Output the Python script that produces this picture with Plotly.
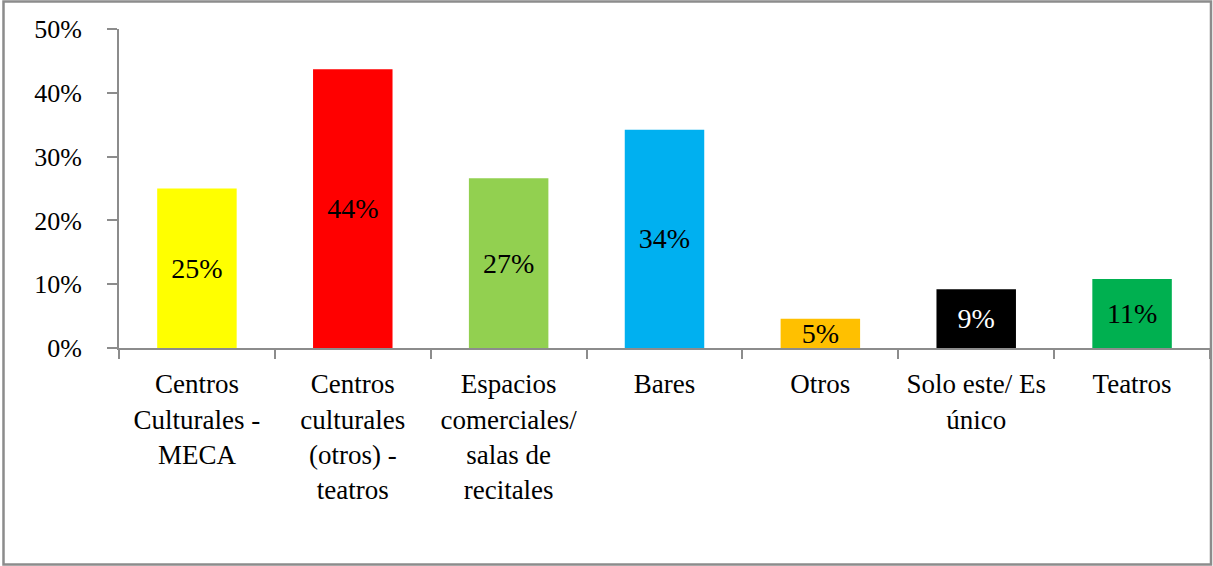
import plotly.graph_objects as go

# Venue categories and share of responses
categories = [
    "Centros<br>Culturales -<br>MECA",
    "Centros<br>culturales<br>(otros) -<br>teatros",
    "Espacios<br>comerciales/<br>salas de<br>recitales",
    "Bares",
    "Otros",
    "Solo este/ Es<br>único",
    "Teatros",
]
shares = [0.25, 0.437, 0.266, 0.342, 0.046, 0.092, 0.108]
bar_colors = ["#FFFF00", "#FF0000", "#92D050", "#00B0F0", "#FFC000", "#000000", "#00B050"]
label_colors = ["black", "black", "black", "black", "black", "white", "black"]
y_ticks = [0, 0.1, 0.2, 0.3, 0.4, 0.5]

FONT = "Liberation Serif, Times New Roman, serif"
AXIS_GREY = "#8C8C8C"

W, H = 1213, 566
ML, MR, MT, MB = 119, 3, 29, 218

fig = go.Figure(
    go.Bar(
        x=categories,
        y=shares,
        marker=dict(color=bar_colors, line=dict(width=0)),
        texttemplate="%{y:.0%}",
        textposition="inside",
        insidetextanchor="middle",
        textangle=0,
        constraintext="none",
        textfont=dict(family=FONT, size=28, color=label_colors),
        hoverinfo="skip",
    )
)

plot_w = W - ML - MR
plot_h = H - MT - MB

fig.update_layout(
    width=W,
    height=H,
    margin=dict(l=ML, r=MR, t=MT, b=MB, pad=0),
    paper_bgcolor="white",
    plot_bgcolor="white",
    bargap=0.49,
    showlegend=False,
    font=dict(family=FONT, size=25, color="black"),
    xaxis=dict(
        showline=True,
        linecolor=AXIS_GREY,
        linewidth=2,
        ticks="outside",
        tickson="boundaries",
        ticklen=9,
        tickwidth=2,
        tickcolor=AXIS_GREY,
        showgrid=False,
        tickangle=0,
        tickfont=dict(family=FONT, size=27, color="black"),
        ticklabelstandoff=11,
    ),
    yaxis=dict(
        range=[0, 0.5],
        tickvals=y_ticks,
        tickformat=".0%",
        showline=True,
        linecolor=AXIS_GREY,
        linewidth=2,
        ticks="outside",
        ticklen=10,
        tickwidth=2,
        tickcolor=AXIS_GREY,
        showgrid=False,
        zeroline=False,
        tickfont=dict(family=FONT, size=26, color="black"),
        ticklabelstandoff=20,
    ),
    # chart border around the whole figure
    shapes=[
        dict(
            type="rect",
            xref="paper",
            yref="paper",
            x0=(3.5 - ML) / plot_w,
            x1=(W - 2 - ML) / plot_w,
            y0=-(H - 1.5 - MT - plot_h) / plot_h,
            y1=(MT - 1.5) / plot_h + 1,
            line=dict(color=AXIS_GREY, width=2.5),
            fillcolor="rgba(0,0,0,0)",
            layer="above",
        )
    ],
)

fig.write_html("out.html")
